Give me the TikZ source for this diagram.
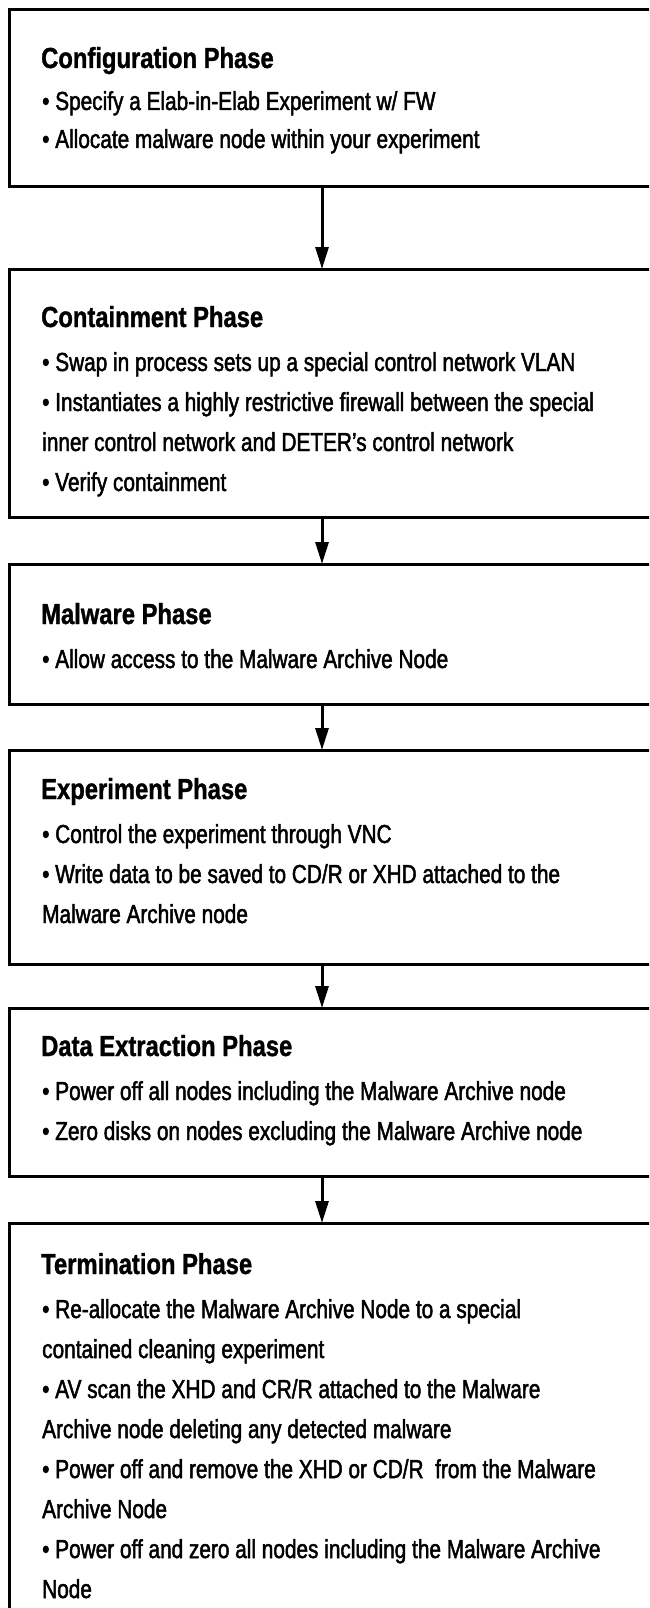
\documentclass[tikz,border=0pt]{standalone}
\usepackage{fontspec}
\newfontfamily\bodyf{Liberation Sans}[FakeStretch=0.8,FakeBold=1.8]
\newfontfamily\titlef{Liberation Sans}[FakeStretch=0.82,FakeBold=1.2]
\usetikzlibrary{arrows.meta}
\begin{document}
\begin{tikzpicture}[x=1pt,y=-1pt,
  box/.style={draw, line width=3pt, rectangle, outer sep=0pt, inner sep=0pt, anchor=north west, minimum width=700pt},
  ttl/.style={anchor=base west, inner sep=0pt, font=\titlef\bfseries\fontsize{29}{40}\selectfont},
  txt/.style={anchor=base west, inner sep=0pt, font=\bodyf\fontsize{26}{40}\selectfont},
  arr/.style={line width=3pt, -{Triangle[length=22pt,width=13pt]}}]
\useasboundingbox (0,0) rectangle (649,1608);
\clip (0,0) rectangle (649,1608);
\coordinate (ax) at (322,0);
% boxes
\node[box, minimum height=177pt] (b1) at (9,10) {};
\node[box, minimum height=248pt] (b2) at (9,269) {};
\node[box, minimum height=140pt] (b3) at (9,564) {};
\node[box, minimum height=214pt] (b4) at (9,750) {};
\node[box, minimum height=168pt] (b5) at (9,1008) {};
\node[box, minimum height=500pt] (b6) at (9,1223) {};
% arrows
\draw[arr] (b1.south -| ax) -- (b2.north -| ax);
\draw[arr] (b2.south -| ax) -- (b3.north -| ax);
\draw[arr] (b3.south -| ax) -- (b4.north -| ax);
\draw[arr] (b4.south -| ax) -- (b5.north -| ax);
\draw[arr] (b5.south -| ax) -- (b6.north -| ax);
% box 1
\node[ttl] (t1) at (41,68) {Configuration Phase};
\node[txt] (t1a) at (42,110) {• Specify a Elab-in-Elab Experiment w/ FW};
\node[txt] (t1b) at (42,148) {• Allocate malware node within your experiment};
% box 2
\node[ttl] (t2) at (41,327) {Containment Phase};
\node[txt] (t2a) at (42,371) {• Swap in process sets up a special control network VLAN};
\node[txt] (t2b) at (42,411) {• Instantiates a highly restrictive firewall between the special};
\node[txt] (t2c) at (42,451) {inner control network and DETER’s control network};
\node[txt] (t2d) at (42,491) {• Verify containment};
% box 3
\node[ttl] (t3) at (41,624) {Malware Phase};
\node[txt] (t3a) at (42,668) {• Allow access to the Malware Archive Node};
% box 4
\node[ttl] (t4) at (41,799) {Experiment Phase};
\node[txt] (t4a) at (42,843) {• Control the experiment through VNC};
\node[txt] (t4b) at (42,883) {• Write data to be saved to CD/R or XHD attached to the};
\node[txt] (t4c) at (42,923) {Malware Archive node};
% box 5
\node[ttl] (t5) at (41,1056) {Data Extraction Phase};
\node[txt] (t5a) at (42,1100) {• Power off all nodes including the Malware Archive node};
\node[txt] (t5b) at (42,1140) {• Zero disks on nodes excluding the Malware Archive node};
% box 6
\node[ttl] (t6) at (41,1274) {Termination Phase};
\node[txt] (t6a) at (42,1318) {• Re-allocate the Malware Archive Node to a special};
\node[txt] (t6b) at (42,1358) {contained cleaning experiment};
\node[txt] (t6c) at (42,1398) {• AV scan the XHD and CR/R attached to the Malware};
\node[txt] (t6d) at (42,1438) {Archive node deleting any detected malware};
\node[txt] (t6e) at (42,1478) {• Power off and remove the XHD or CD/R\ \ from the Malware};
\node[txt] (t6f) at (42,1518) {Archive Node};
\node[txt] (t6g) at (42,1558) {• Power off and zero all nodes including the Malware Archive};
\node[txt] (t6h) at (42,1598) {Node};
\end{tikzpicture}
\end{document}
